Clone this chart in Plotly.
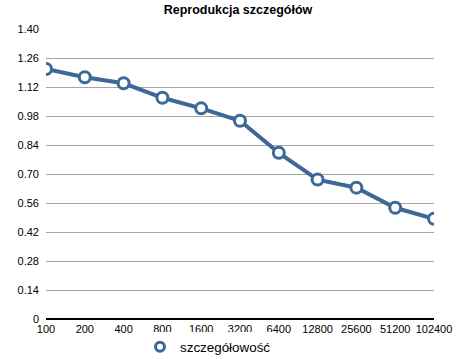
import plotly.graph_objects as go

categories = ["100", "200", "400", "800", "1600", "3200", "6400", "12800", "25600", "51200", "102400"]
values = [1.207, 1.167, 1.138, 1.068, 1.017, 0.957, 0.802, 0.673, 0.634, 0.537, 0.484]
series_name = "szczegółowość"
y_ticks = [0, 0.14, 0.28, 0.42, 0.56, 0.70, 0.84, 0.98, 1.12, 1.26, 1.40]
y_tick_labels = ["0", "0.14", "0.28", "0.42", "0.56", "0.70", "0.84", "0.98", "1.12", "1.26", "1.40"]

color = "#3d6898"
font = "Liberation Sans, Arial, sans-serif"

fig = go.Figure()
fig.add_trace(go.Scatter(
    x=categories, y=values, mode="lines+markers", name=series_name,
    line=dict(color=color, width=4),
    marker=dict(symbol="circle", size=11, color="white", line=dict(color=color, width=3)),
    showlegend=False,
))
fig.add_trace(go.Scatter(
    x=[None], y=[None], mode="markers", name=series_name,
    marker=dict(symbol="circle", size=9, color="white", line=dict(color=color, width=3)),
))

fig.update_layout(
    width=463, height=359,
    margin=dict(l=46, r=29, t=29, b=40, autoexpand=False),
    paper_bgcolor="white", plot_bgcolor="white",
    font=dict(family=font, size=11, color="black"),
    title=dict(text="<b>Reprodukcja szczegółów</b>", x=238 / 463, xanchor="center",
               xref="container", yref="container", y=1 - 10 / 359, yanchor="middle",
               font=dict(size=12.5, family=font, color="black")),
    xaxis=dict(type="category", categoryorder="array", categoryarray=categories,
               range=[0, len(categories) - 1], showgrid=False, zeroline=False,
               showline=False, ticks="", tickfont=dict(size=11), automargin=False,
               ticklabeloverflow="allow", ticklabelstandoff=2),
    yaxis=dict(range=[0, 1.40], tickvals=y_ticks, ticktext=y_tick_labels,
               showgrid=True, gridcolor="#a6a6a6", gridwidth=1, zeroline=True,
               zerolinecolor="black", zerolinewidth=2, ticks="", ticklabelstandoff=6,
               automargin=False),
    legend=dict(orientation="h", xref="container", yref="container",
                x=140 / 463, xanchor="left", y=12 / 359, yanchor="middle",
                font=dict(size=13.4), itemwidth=30),
)
fig.write_html("out.html", config={"displayModeBar": False},
               post_script="document.body.style.margin='0';document.body.style.overflow='hidden';")
